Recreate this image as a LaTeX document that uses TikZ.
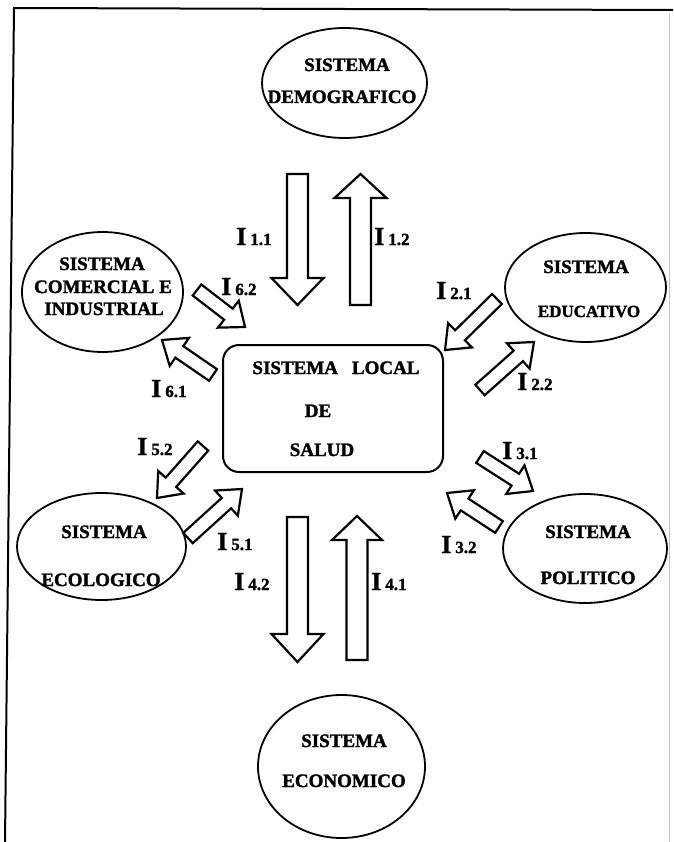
\documentclass[tikz,border=0pt]{standalone}
\usepackage{fontspec}
\setmainfont{Liberation Serif}[BoldFeatures={FakeBold=1.6}]
\usetikzlibrary{shapes.geometric,calc}

\tikzset{
  sys/.style 2 args={ellipse, draw, line width=1.8pt, inner sep=0pt,
    minimum width=#1pt, minimum height=#2pt},
  systext/.style={font=\fontsize{19}{19}\selectfont\bfseries, anchor=base, inner sep=0pt},
  ilab/.style={anchor=base west, inner sep=0pt},
  fatbody/.style={draw, fill=white, line width=2.2pt, line join=miter},
  framebox/.style={line width=2pt},
}

% label "I n.m": large capital I followed by a smaller index
\newcommand\ilabel[1]{\bfseries{\fontsize{26}{26}\selectfont I}\hspace{4pt}{\fontsize{17}{17}\selectfont #1}}

% hollow block arrow from coordinate #1 (tail) to coordinate #2 (tip)
% #3 shaft half-width, #4 head half-width, #5 head length
\newcommand\fatarrow[5]{%
  \path let \p1=($(#2)-(#1)$) in
    \pgfextra{\pgfmathparse{atan2(\y1,\x1)}\xdef\faAng{\pgfmathresult}%
              \pgfmathparse{veclen(\x1,\y1)}\xdef\faLen{\pgfmathresult}};
  \begin{scope}[shift={(#1)}, rotate=\faAng]
    \draw[fatbody] (0,#3) -- ({\faLen-#5},#3) -- ({\faLen-#5},#4) -- (\faLen,0)
      -- ({\faLen-#5},-#4) -- ({\faLen-#5},-#3) -- (0,-#3) -- cycle;
  \end{scope}
}

\begin{document}
\begin{tikzpicture}[x=1pt,y=-1pt]
  \useasboundingbox (0,0) rectangle (673,842);
  \fill[white] (0,0) rectangle (673,842);

  % page frame
  \draw[framebox] (5,842) -- (14,8) -- (673,10);
  \draw[gray!50, line width=0.7pt] (669,14) -- (669,842);

  % systems
  \node[sys={165}{110}] (demo) at (344.5,83) {};
  \node[sys={161}{120}] (com) at (102.5,292) {};
  \node[sys={161}{109}] (edu) at (585.5,287.5) {};
  \node[sys={169}{107}] (eco) at (101.5,546.5) {};
  \node[sys={164}{109}] (pol) at (585,548.5) {};
  \node[sys={167}{143}] (econ) at (341.5,766.5) {};
  \node[draw, line width=2pt, rounded corners=16pt, minimum width=220pt,
        minimum height=127pt, inner sep=0pt] (local) at (333,408.5) {};

  % system names
  \node[systext] (demoA) at (347,71) {SISTEMA};
  \node[systext] (demoB) at (342,103) {DEMOGRAFICO};
  \node[systext] (comA) at (102,270) {SISTEMA};
  \node[systext] (comB) at (103,293) {COMERCIAL E};
  \node[systext] (comC) at (104,315) {INDUSTRIAL};
  \node[systext] (eduA) at (586,273) {SISTEMA};
  \node[systext, font=\fontsize{17}{17}\selectfont\bfseries] (eduB) at (589,317) {EDUCATIVO};
  \node[systext] (ecoA) at (104,538) {SISTEMA};
  \node[systext] (ecoB) at (101,586) {ECOLOGICO};
  \node[systext] (polA) at (588,538) {SISTEMA};
  \node[systext] (polB) at (588,584) {POLITICO};
  \node[systext] (econA) at (344,747) {SISTEMA};
  \node[systext] (econB) at (344,787) {ECONOMICO};
  \node[systext] (locA) at (336,374) {SISTEMA\hspace{14pt}LOCAL};
  \node[systext] (locB) at (318,417) {DE};
  \node[systext] (locC) at (322,456) {SALUD};

  % arrow end points
  \coordinate (t11) at (297.5,174);  \coordinate (h11) at (297.5,305);
  \coordinate (t12) at (360.5,305);  \coordinate (h12) at (360.5,174);
  \coordinate (t42) at (297.5,517);  \coordinate (h42) at (297.5,662);
  \coordinate (t41) at (357,660);    \coordinate (h41) at (357,516);
  \coordinate (t62) at (197,290);    \coordinate (h62) at (245,327);
  \coordinate (t61) at (213,375);    \coordinate (h61) at (162,340);
  \coordinate (t21) at (497,299);    \coordinate (h21) at (445,350);
  \coordinate (t22) at (480,390);    \coordinate (h22) at (534,342);
  \coordinate (t31) at (480,457);    \coordinate (h31) at (533,491);
  \coordinate (t32) at (499,527);    \coordinate (h32) at (447,493);
  \coordinate (t52) at (203,446);    \coordinate (h52) at (157,498);
  \coordinate (t51) at (188,538);    \coordinate (h51) at (242,489);

  % flows
  \fatarrow{t11}{h11}{10.5}{26}{27}
  \fatarrow{t12}{h12}{10.5}{26}{24}
  \fatarrow{t42}{h42}{10.5}{26}{28}
  \fatarrow{t41}{h41}{10.5}{25}{24}
  \fatarrow{t62}{h62}{7}{17}{21}
  \fatarrow{t61}{h61}{7}{17}{21}
  \fatarrow{t21}{h21}{7}{17}{21}
  \fatarrow{t22}{h22}{7}{17}{21}
  \fatarrow{t31}{h31}{7}{17}{21}
  \fatarrow{t32}{h32}{7}{17}{21}
  \fatarrow{t52}{h52}{7}{17}{21}
  \fatarrow{t51}{h51}{7}{17}{21}

  % flow labels
  \node[ilab] (l11) at (236,245) {\ilabel{1.1}};
  \node[ilab] (l12) at (374,245) {\ilabel{1.2}};
  \node[ilab] (l62) at (221,295) {\ilabel{6.2}};
  \node[ilab] (l61) at (151,397) {\ilabel{6.1}};
  \node[ilab] (l21) at (436,299) {\ilabel{2.1}};
  \node[ilab] (l22) at (517,390) {\ilabel{2.2}};
  \node[ilab] (l31) at (502,459) {\ilabel{3.1}};
  \node[ilab] (l32) at (441,553) {\ilabel{3.2}};
  \node[ilab] (l52) at (137,455) {\ilabel{5.2}};
  \node[ilab] (l51) at (217,550) {\ilabel{5.1}};
  \node[ilab] (l42) at (234,590) {\ilabel{4.2}};
  \node[ilab] (l41) at (371,590) {\ilabel{4.1}};
\end{tikzpicture}
\end{document}
